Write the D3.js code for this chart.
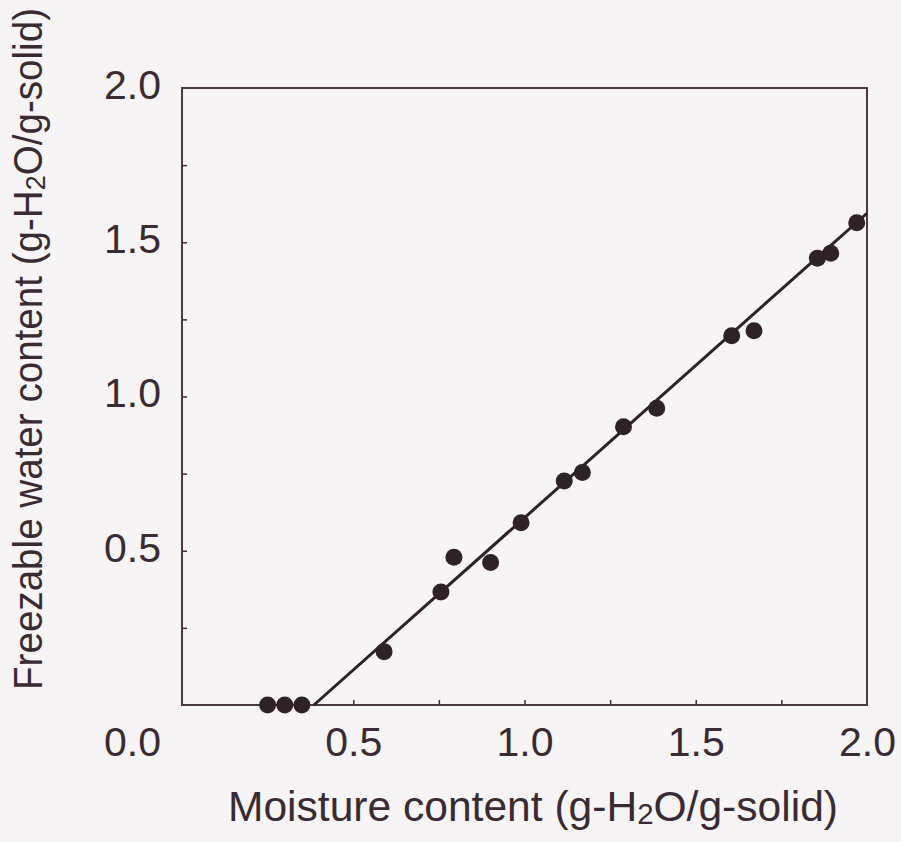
<!DOCTYPE html>
<html>
  <head>
    <script type="text/javascript" src="https://cdn.jsdelivr.net/npm/d3@7"></script>
    <style type="text/css">
      body {
        margin: 0;
        background: #f6f4f4;
      }
      text {
        font-family: "Liberation Sans", Arial, Helvetica, sans-serif;
        fill: #3a2b33;
      }
    </style>
  </head>
  <body>
    <script type="text/javascript">

      // measured points: moisture content vs freezable water content
      var moisture = [0.25, 0.30, 0.35, 0.59, 0.756, 0.794, 0.901, 0.99,
                      1.116, 1.169, 1.289, 1.386, 1.605, 1.67, 1.855, 1.894,
                      1.97];
      var freezable = [0, 0, 0, 0.173, 0.366, 0.479, 0.462, 0.591,
                       0.726, 0.754, 0.902, 0.962, 1.197, 1.213, 1.448, 1.464,
                       1.563];

      // fitted straight line (end points)
      var fitX = [0.385, 2.0];
      var fitY = [0, 1.594];

      // tick values
      var majorTicks = [0.5, 1.0, 1.5, 2.0];
      var yLabelTicks = [0.0, 0.5, 1.0, 1.5, 2.0];
      var minorTicks = [0.25, 0.5, 0.75, 1.0, 1.25, 1.5, 1.75];

      var width = 901;
      var height = 842;

      // plot area inside the svg
      var pad = {left: 182, right: 34, top: 88, bottom: 137};
      var wChart = width - pad.left - pad.right;
      var hChart = height - pad.top - pad.bottom;

      var ink = "#3a2b33";

      var svg = d3.select("body")
                  .append("svg")
                  .attr("width", width)
                  .attr("height", height);

      var xScale = d3.scaleLinear()
                     .domain([0, 2])
                     .range([pad.left, pad.left + wChart]);
      var yScale = d3.scaleLinear()
                     .domain([0, 2])
                     .range([pad.top + hChart, pad.top]);

      // small inward ticks every 0.25
      svg.append("g")
         .attr("transform", "translate(0," + yScale(0) + ")")
         .call(d3.axisBottom(xScale).tickValues(minorTicks)
                 .tickSize(-5).tickFormat(""))
         .call(function(g){ g.select(".domain").remove(); })
         .selectAll("line").attr("stroke", ink).attr("stroke-width", 1.5);
      svg.append("g")
         .attr("transform", "translate(" + xScale(0) + ",0)")
         .call(d3.axisLeft(yScale).tickValues(minorTicks)
                 .tickSize(-5).tickFormat(""))
         .call(function(g){ g.select(".domain").remove(); })
         .selectAll("line").attr("stroke", ink).attr("stroke-width", 1.5);

      // x tick labels
      var xLab = svg.append("g")
         .attr("transform", "translate(0," + yScale(0) + ")")
         .call(d3.axisBottom(xScale).tickValues(majorTicks)
                 .tickSize(0).tickPadding(22).tickFormat(d3.format(".1f")));
      xLab.select(".domain").remove();
      xLab.selectAll("text")
          .attr("font-size", 41)
          .attr("font-family", null)
          .attr("fill", ink);

      // y tick labels, the 0.0 label sits below the axis line
      var yLab = svg.append("g")
         .attr("transform", "translate(" + xScale(0) + ",0)")
         .call(d3.axisLeft(yScale).tickValues(yLabelTicks)
                 .tickSize(0).tickPadding(21).tickFormat(d3.format(".1f")));
      yLab.select(".domain").remove();
      yLab.selectAll("text")
          .attr("font-size", 41)
          .attr("font-family", null)
          .attr("fill", ink)
          .attr("dy", function(d){ return d == 0 ? "1.24em" : "0.25em"; });

      // frame round the plot
      svg.append("rect")
         .attr("x", xScale(0))
         .attr("y", yScale(2))
         .attr("width", xScale(2) - xScale(0))
         .attr("height", yScale(0) - yScale(2))
         .attr("fill", "none")
         .attr("stroke", "#4b3a45")
         .attr("stroke-width", 2);

      // fitted line
      var line = d3.line()
                   .x(function(d){ return xScale(d[0]); })
                   .y(function(d){ return yScale(d[1]); });
      svg.append("path")
         .datum(d3.zip(fitX, fitY))
         .attr("d", line)
         .attr("fill", "none")
         .attr("stroke", "#2e2228")
         .attr("stroke-width", 3);

      // data points
      svg.selectAll("circle")
         .data(d3.zip(moisture, freezable))
         .enter()
         .append("circle")
         .attr("cx", function(d){ return xScale(d[0]); })
         .attr("cy", function(d){ return yScale(d[1]); })
         .attr("r", 8.5)
         .attr("fill", "#2e2228");

      // x axis title
      var xTitle = svg.append("text")
         .attr("x", 533)
         .attr("y", 821)
         .attr("font-size", 42)
         .attr("text-anchor", "middle");
      xTitle.append("tspan").text("Moisture content (g-H");
      xTitle.append("tspan").attr("font-size", 29).attr("dy", 3).text("2");
      xTitle.append("tspan").attr("dy", -3).text("O/g-solid)");

      // y axis title
      var yTitle = svg.append("text")
         .attr("transform", "translate(42," + 349 + ") rotate(-90)")
         .attr("font-size", 40)
         .attr("text-anchor", "middle");
      yTitle.append("tspan").text("Freezable water content (g-H");
      yTitle.append("tspan").attr("font-size", 28).attr("dy", 3).text("2");
      yTitle.append("tspan").attr("dy", -3).text("O/g-solid)");

      // squeeze the titles to the width they have in the figure
      xTitle.attr("textLength", 610).attr("lengthAdjust", "spacingAndGlyphs");
      yTitle.attr("textLength", 682).attr("lengthAdjust", "spacingAndGlyphs");
    </script>
  </body>
</html>
